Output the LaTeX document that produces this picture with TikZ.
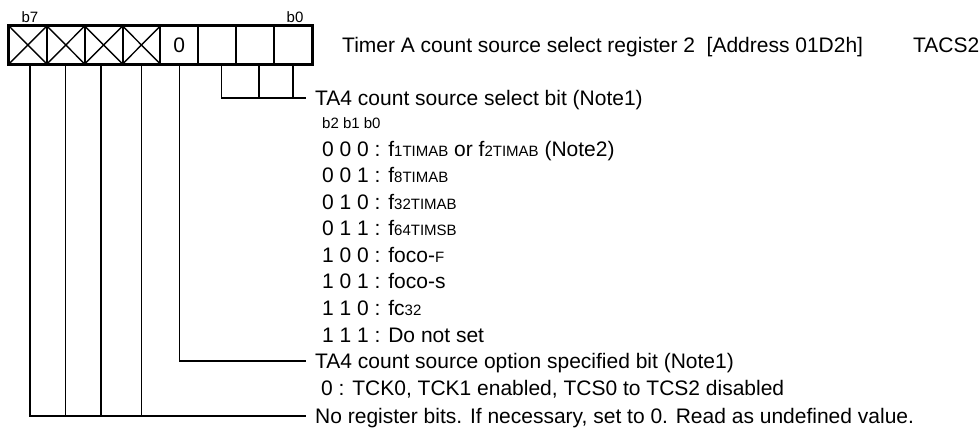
\documentclass[tikz,border=0pt]{standalone}
\usepackage{fontspec}
\setmainfont{Liberation Sans}
\newcommand\smtxt[1]{{\fontsize{15}{17}\selectfont #1}}
\begin{document}
\begin{tikzpicture}[x=1pt,y=-1pt,
  cell/.style={draw, line width=2pt, minimum width=37.85pt, minimum height=38pt, inner sep=0pt, font=\fontsize{21}{25}\selectfont},
  crossl/.style={line width=1.4pt},
  conn/.style={line width=1.3pt},
  lbl/.style={anchor=west, inner xsep=9pt, inner ysep=0pt, text height=15pt, text depth=0pt, font=\fontsize{21}{25}\selectfont},
  bitlbl/.style={inner sep=0pt, font=\fontsize{15}{17}\selectfont}]
\useasboundingbox (0,0) rectangle (980,430);
% register cells
\foreach \i in {0,...,7} {
  \node[cell] (c\i) at ({9+37.85*(7-\i)+18.925},45) {};
}
\node[inner sep=0pt, font=\fontsize{21}{25}\selectfont] (zero) at (c3) {0};
\foreach \i in {4,...,7} {
  \draw[crossl] (c\i.north west) -- (c\i.south east);
  \draw[crossl] (c\i.south west) -- (c\i.north east);
}
\draw[line width=2pt] (c7.north west) rectangle (c0.south east);
% bit labels
\node[bitlbl] (lb7) at (30,17) {b7};
\node[bitlbl] (lb0) at (295,17) {b0};
% title
\node[lbl] (title) at (333,45) {Timer A count source select register 2\ \ [Address 01D2h]};
\node[lbl] (sym) at (904,45) {TACS2};
% texts
\node[lbl] (tsel) at (306,98) {TA4 count source select bit (Note1)};
\node[lbl, font=\fontsize{15}{17}\selectfont, text height=11pt] (bb) at (313,123) {b2 b1 b0};
\node[lbl] (r0) at (313,149) {0 0 0 : f\smtxt{1TIMAB} or f\smtxt{2TIMAB} (Note2)};
\node[lbl] (r1) at (313,175.5) {0 0 1 : f\smtxt{8TIMAB}};
\node[lbl] (r2) at (313,202) {0 1 0 : f\smtxt{32TIMAB}};
\node[lbl] (r3) at (313,228.5) {0 1 1 : f\smtxt{64TIMSB}};
\node[lbl] (r4) at (313,255) {1 0 0 : foco-\smtxt{F}};
\node[lbl] (r5) at (313,281.5) {1 0 1 : foco-s};
\node[lbl] (r6) at (313,308) {1 1 0 : fc\smtxt{32}};
\node[lbl] (r7) at (313,334.5) {1 1 1 : Do not set};
\node[lbl] (topt) at (306,361) {TA4 count source option specified bit (Note1)};
\node[lbl] (o0) at (312,388) {0 : TCK0, TCK1 enabled, TCS0 to TCS2 disabled};
\node[lbl] (tno) at (306,416) {No register bits. If necessary, set to 0. Read as undefined value.};
% connectors
\coordinate (p2) at ([xshift=4pt]c2.south);
\coordinate (p1) at ([xshift=4pt]c1.south);
\coordinate (p0) at (c0.south);
\draw[conn] (p2) |- (tsel.west);
\draw[conn] (p1) -- (p1 |- tsel.west);
\draw[conn] (p0) -- (p0 |- tsel.west);
\draw[conn] (c3.south) |- (topt.west);
\coordinate (p7) at ([xshift=2pt]c7.south);
\coordinate (p6) at (c6.south);
\coordinate (p5) at ([xshift=-2.5pt]c5.south);
\coordinate (p4) at (c4.south);
\draw[conn] (p7) |- (tno.west);
\draw[conn] (p6) -- (p6 |- tno.west);
\draw[conn] (p5) -- (p5 |- tno.west);
\draw[conn] (p4) -- (p4 |- tno.west);
\end{tikzpicture}
\end{document}
